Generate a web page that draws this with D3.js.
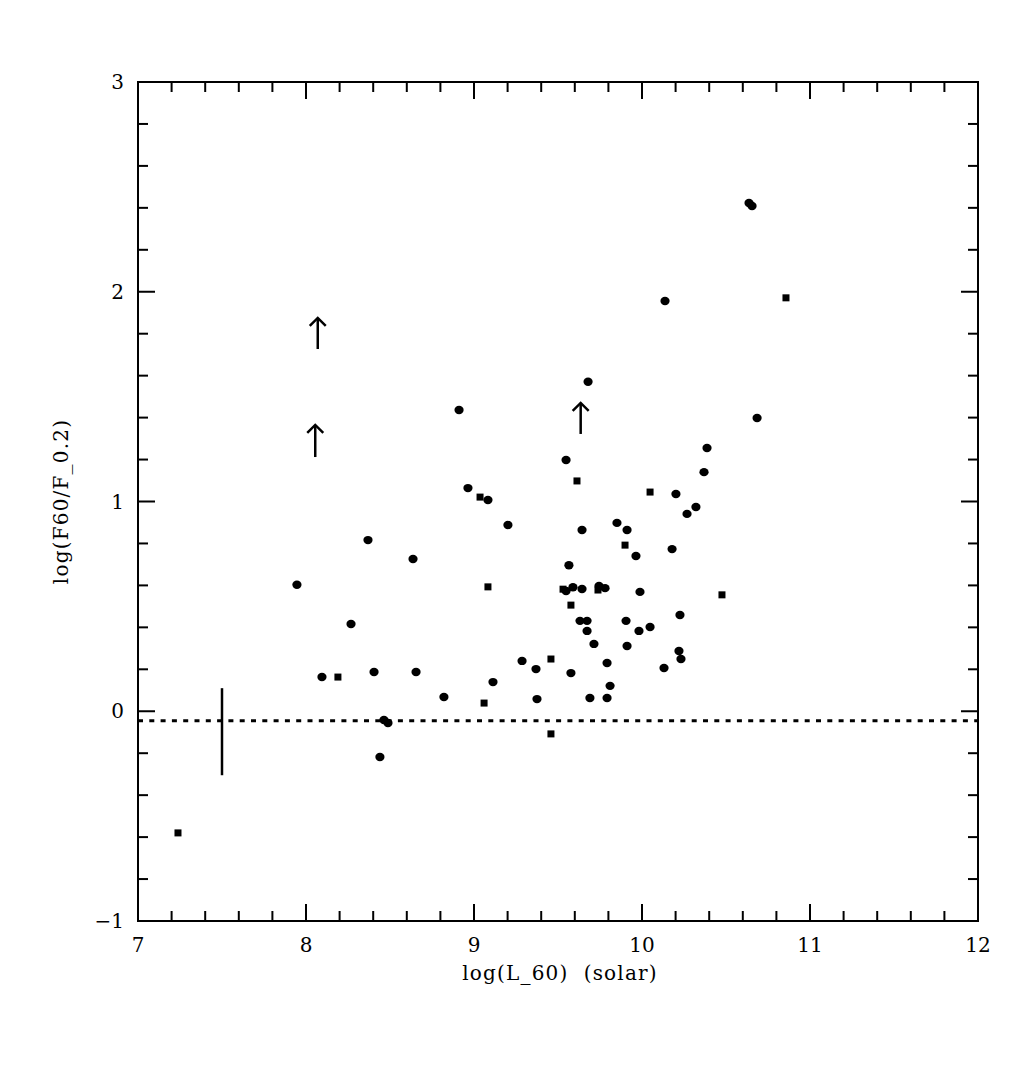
<!DOCTYPE html>
<html>
<head>
<meta charset="utf-8">
<script src="https://cdn.jsdelivr.net/npm/d3@7"></script>
<style>
  body { margin: 0; background: #fff; }
  text { font-family: "DejaVu Serif", "Liberation Serif", serif; fill: #000; }
</style>
</head>
<body>
<div id="chart"></div>
<script>
// circles: [log L60, log(F60/F0.2)]
var circles = [
    [7.946, 0.603], [8.369, 0.816], [8.095, 0.163], [8.268, 0.416], [8.405, 0.187],
    [8.637, 0.726], [8.655, 0.187], [8.464, -0.042], [8.488, -0.056], [8.440, -0.218],
    [8.821, 0.068], [9.113, 0.139], [9.286, 0.240], [9.369, 0.201], [9.577, 0.182],
    [9.375, 0.058], [8.911, 1.436], [8.964, 1.064], [9.083, 1.007], [9.202, 0.888],
    [9.679, 1.571], [9.548, 1.198], [10.202, 1.036], [10.387, 1.255], [10.369, 1.140],
    [10.321, 0.974], [10.268, 0.941], [9.851, 0.898], [9.911, 0.864], [9.964, 0.740],
    [9.643, 0.864], [10.179, 0.773], [9.565, 0.696], [9.548, 0.573], [9.589, 0.591],
    [9.643, 0.583], [9.744, 0.597], [9.780, 0.587], [9.988, 0.569], [9.631, 0.431],
    [9.673, 0.431], [9.673, 0.383], [9.905, 0.431], [9.982, 0.383], [10.048, 0.402],
    [10.226, 0.459], [9.714, 0.321], [9.911, 0.311], [10.220, 0.287], [10.232, 0.249],
    [9.792, 0.230], [9.810, 0.121], [9.690, 0.063], [9.792, 0.063], [10.131, 0.206],
    [10.137, 1.956], [10.637, 2.423], [10.655, 2.409], [10.685, 1.398]
];

var squares = [
    [7.238, -0.580], [8.190, 0.163], [9.036, 1.021], [9.083, 0.593], [9.060, 0.039],
    [9.458, 0.249], [9.458, -0.108], [9.613, 1.098], [10.048, 1.045], [9.899, 0.792],
    [9.738, 0.578], [9.530, 0.582], [9.577, 0.506], [10.476, 0.555], [10.857, 1.971]
];

// lower limits drawn as arrows: [x, yBottom, yTop]
var arrows = [
    [8.07, 1.727, 1.875],
    [8.055, 1.212, 1.365],
    [9.635, 1.322, 1.470]
];

var errorBar = [7.5, -0.305, 0.11];
var meanLevel = -0.045;

var xTicks = [7, 8, 9, 10, 11, 12];
var yTicks = [-1, 0, 1, 2, 3];

var width = 1035, height = 1081;
var mLeft = 138, mRight = 978, mTop = 82, mBottom = 921;

var svg = d3.select('#chart')
    .append('svg')
    .attr('width', width)
    .attr('height', height);

var x = d3.scaleLinear().domain([7, 12]).range([mLeft, mRight]);
var y = d3.scaleLinear().domain([-1, 3]).range([mBottom, mTop]);

// frame
svg.append('rect')
    .attr('x', mLeft).attr('y', mTop)
    .attr('width', mRight - mLeft).attr('height', mBottom - mTop)
    .attr('fill', 'none').attr('stroke', '#000').attr('stroke-width', 2);

// inward ticks on all four sides
var xMinor = d3.range(7, 12.001, 0.2);
var yMinor = d3.range(-1, 3.001, 0.2);
function isMajor(v) { return Math.abs(v - Math.round(v)) < 1e-6; }

var ticks = svg.append('g').attr('stroke', '#000').attr('stroke-width', 2);
xMinor.forEach(function(v) {
    var len = isMajor(v) ? 17 : 10;
    ticks.append('line').attr('x1', x(v)).attr('x2', x(v)).attr('y1', mBottom).attr('y2', mBottom - len);
    ticks.append('line').attr('x1', x(v)).attr('x2', x(v)).attr('y1', mTop).attr('y2', mTop + len);
});
yMinor.forEach(function(v) {
    var len = isMajor(v) ? 17 : 10;
    ticks.append('line').attr('y1', y(v)).attr('y2', y(v)).attr('x1', mLeft).attr('x2', mLeft + len);
    ticks.append('line').attr('y1', y(v)).attr('y2', y(v)).attr('x1', mRight).attr('x2', mRight - len);
});

// tick labels
svg.selectAll('.xlab')
    .data(xTicks)
    .enter()
    .append('text')
    .attr('class', 'xlab')
    .attr('x', function(d) { return x(d); })
    .attr('y', mBottom + 31)
    .attr('text-anchor', 'middle')
    .attr('font-size', 20)
    .text(function(d) { return d; });

svg.selectAll('.ylab')
    .data(yTicks)
    .enter()
    .append('text')
    .attr('class', 'ylab')
    .attr('x', mLeft - 14)
    .attr('y', function(d) { return y(d) + 7; })
    .attr('text-anchor', 'end')
    .attr('font-size', 20)
    .text(function(d) { return d < 0 ? '\u2212' + Math.abs(d) : d; });

// axis titles
svg.append('text')
    .attr('x', (mLeft + mRight) / 2 + 2)
    .attr('y', mBottom + 59)
    .attr('text-anchor', 'middle')
    .attr('font-size', 20)
    .attr('letter-spacing', 1.2)
    .style('white-space', 'pre')
    .text('log(L_60)  (solar)');

svg.append('text')
    .attr('transform', 'translate(68,' + ((mTop + mBottom) / 2) + ') rotate(-90)')
    .attr('text-anchor', 'middle')
    .attr('font-size', 20)
    .attr('letter-spacing', 1.2)
    .text('log(F60/F_0.2)');

// dotted mean level
svg.append('line')
    .attr('x1', mLeft).attr('x2', mRight)
    .attr('y1', y(meanLevel)).attr('y2', y(meanLevel))
    .attr('stroke', '#000').attr('stroke-width', 3)
    .attr('stroke-dasharray', '5,6.3');

// typical error bar
svg.append('line')
    .attr('x1', x(errorBar[0])).attr('x2', x(errorBar[0]))
    .attr('y1', y(errorBar[1])).attr('y2', y(errorBar[2]))
    .attr('stroke', '#000').attr('stroke-width', 2.5);

// arrows
var arr = svg.append('g').attr('stroke', '#000').attr('stroke-width', 2.5).attr('fill', 'none');
arrows.forEach(function(a) {
    var ax = x(a[0]), yb = y(a[1]), yt = y(a[2]);
    arr.append('line').attr('x1', ax).attr('x2', ax).attr('y1', yb).attr('y2', yt);
    arr.append('path').attr('d', 'M' + (ax - 8) + ',' + (yt + 8) + 'L' + ax + ',' + yt + 'L' + (ax + 8) + ',' + (yt + 8));
});

// points
svg.selectAll('.circ')
    .data(circles)
    .enter()
    .append('ellipse')
    .attr('class', 'circ')
    .attr('cx', function(d) { return x(d[0]); })
    .attr('cy', function(d) { return y(d[1]); })
    .attr('rx', 4.6)
    .attr('ry', 4.2)
    .attr('fill', '#000');

svg.selectAll('.sq')
    .data(squares)
    .enter()
    .append('rect')
    .attr('class', 'sq')
    .attr('x', function(d) { return x(d[0]) - 3.5; })
    .attr('y', function(d) { return y(d[1]) - 3.5; })
    .attr('width', 7)
    .attr('height', 7)
    .attr('fill', '#000');
</script>
</body>
</html>
